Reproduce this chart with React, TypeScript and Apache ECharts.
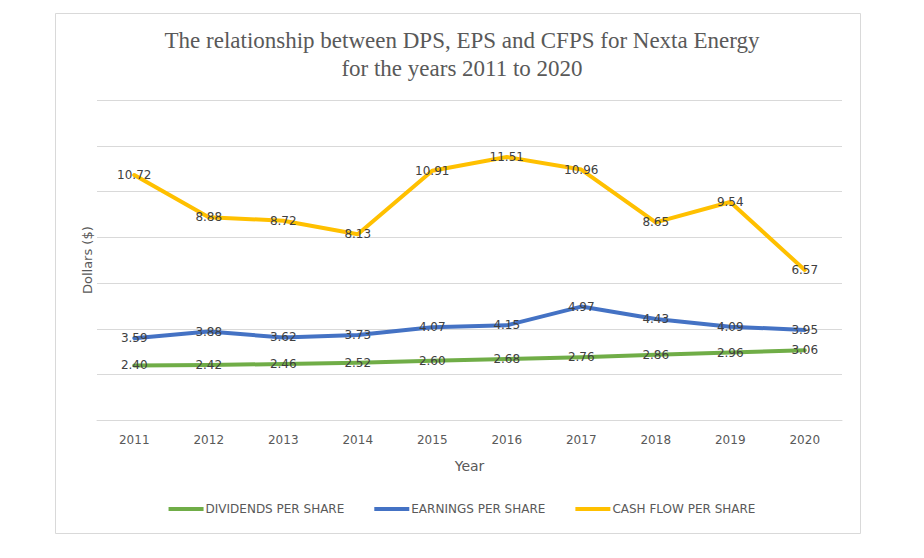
import React, { useEffect, useRef } from "react";
import * as echarts from "echarts";

const years = ["2011", "2012", "2013", "2014", "2015", "2016", "2017", "2018", "2019", "2020"];
const dps = [2.4, 2.42, 2.46, 2.52, 2.6, 2.68, 2.76, 2.86, 2.96, 3.06];
const eps = [3.59, 3.88, 3.62, 3.73, 4.07, 4.15, 4.97, 4.43, 4.09, 3.95];
const cfps = [10.72, 8.88, 8.72, 8.13, 10.91, 11.51, 10.96, 8.65, 9.54, 6.57];
const seriesNames = ["DIVIDENDS PER SHARE", "EARNINGS PER SHARE", "CASH FLOW PER SHARE"];
const seriesColors = ["#70AD47", "#4472C4", "#FFC000"];

export default function App() {
  const ref = useRef<HTMLDivElement>(null);
  useEffect(() => {
    if (!ref.current) return;
    const chart = echarts.init(ref.current, null, { renderer: "svg" });
    const values = [dps, eps, cfps];
    chart.setOption({
      animation: false,
      backgroundColor: "#ffffff",
      title: {
        text: "The relationship between DPS, EPS and CFPS for Nexta Energy\nfor the years 2011 to 2020",
        left: 457,
        textAlign: "center",
        top: 21,
        textStyle: {
          fontFamily: "Liberation Serif",
          fontSize: 23,
          fontWeight: "normal",
          color: "#595959",
          lineHeight: 28,
        },
      },
      graphic: [
        {
          type: "rect",
          shape: { x: 55.5, y: 13.5, width: 805, height: 520 },
          style: { fill: "none", stroke: "#D9D9D9", lineWidth: 1 },
          silent: true,
          z: -1,
        },
      ],
      legend: {
        bottom: 38,
        left: "center",
        itemWidth: 35,
        itemHeight: 4,
        itemGap: 30,
        icon: "rect",
        textStyle: { fontFamily: "DejaVu Sans", fontSize: 12, color: "#595959", padding: [0, 0, 0, -3] },
        data: seriesNames,
      },
      grid: { left: 97, right: 82, top: 100, bottom: 137.7 },
      xAxis: {
        type: "category",
        data: years,
        boundaryGap: true,
        name: "Year",
        nameLocation: "middle",
        nameGap: 39,
        nameTextStyle: { fontFamily: "DejaVu Sans", fontSize: 14, color: "#595959" },
        axisLine: { lineStyle: { color: "#D9D9D9" } },
        axisTick: { show: false },
        axisLabel: { fontFamily: "DejaVu Sans", fontSize: 12, color: "#595959", margin: 14 },
      },
      yAxis: {
        type: "value",
        min: 0,
        max: 14,
        interval: 2,
        name: "Dollars ($)",
        nameLocation: "middle",
        nameGap: 3,
        nameRotate: 90,
        nameTextStyle: { fontFamily: "DejaVu Sans", fontSize: 13, color: "#595959" },
        axisLabel: { show: false },
        axisLine: { show: false },
        axisTick: { show: false },
        splitLine: { lineStyle: { color: "#D9D9D9" } },
      },
      series: seriesNames.map((name, i) => ({
        name,
        type: "line",
        data: values[i],
        color: seriesColors[i],
        showSymbol: true,
        symbol: "circle",
        symbolSize: 1,
        itemStyle: { color: seriesColors[i] },
        lineStyle: { width: 4, color: seriesColors[i], join: "round", cap: "round" },
        label: {
          show: true,
          position: "inside",
          formatter: (p: any) => Number(p.value).toFixed(2),
          fontFamily: "DejaVu Sans",
          fontSize: 12,
          color: "#404040",
        },
        labelLayout: { hideOverlap: false },
      })),
    });
    return () => chart.dispose();
  }, []);
  return (
    <div
      ref={ref}
      style={{ position: "fixed", left: 0, top: 0, width: 924, height: 558 }}
    />
  );
}
